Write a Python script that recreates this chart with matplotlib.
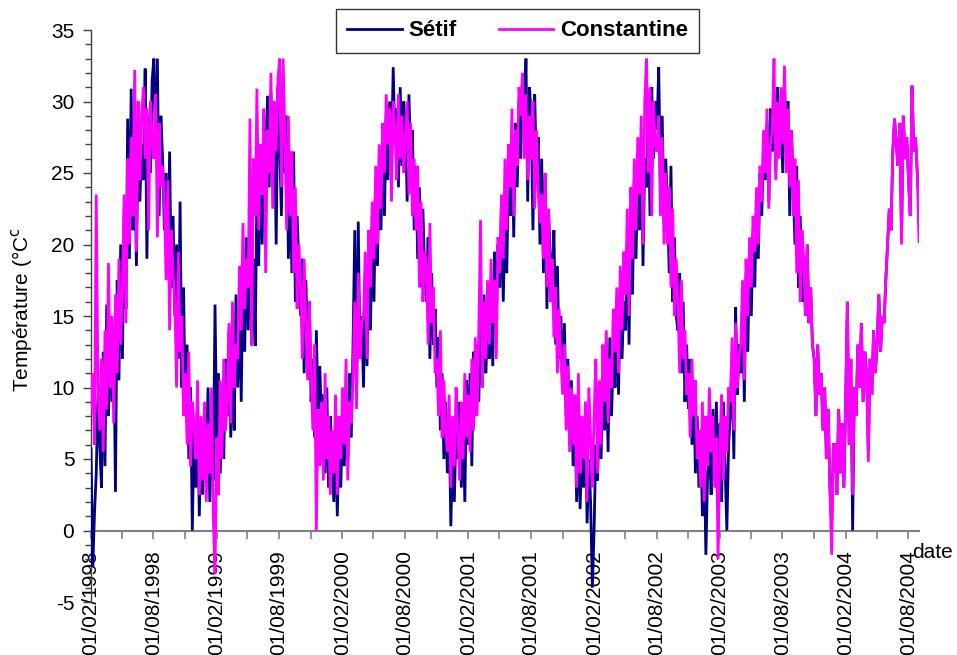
import numpy as np
import matplotlib
matplotlib.use("Agg")
import matplotlib.pyplot as plt
import matplotlib.dates as mdates
import datetime as dt

plt.rcParams['font.family'] = ['Liberation Sans', 'DejaVu Sans']
plt.rcParams['axes.unicode_minus'] = False

start_date = dt.date(1998, 2, 1)
end_date = dt.date(2004, 9, 1)

# Sétif daily temperatures (~5-day readings), Feb 1998 -> Sep 2004
setif_1998 = [5.7, -2.5, 1.2, 4.0, 9.5, 6.0,
              3.0, 12.5, 4.5, 15.8, 8.0, 13.5,
              9.0, 14.0, 2.7, 17.5, 10.5, 20.0,
              12.0, 22.5, 15.5, 28.8, 19.0, 30.9,
              21.0, 26.5, 18.5, 28.0, 23.0, 27.0,
              24.5, 32.3, 19.0, 29.0, 25.0, 31.5,
              33.0, 26.0, 33.0, 22.0, 29.0, 26.0,
              21.0, 25.0, 18.5, 26.5, 17.0, 22.0,
              15.0, 20.0, 12.0, 23.0, 10.0, 17.0,
              8.0, 13.0, 5.0, 10.0, 0.0, 7.0,
              3.0, 9.0, 1.0, 6.5, 2.5, 8.0]
setif_1999 = [4.5, 10.0, 2.0, 7.0, 3.5, 15.8,
              6.0, 11.0, 4.0, 9.5, 5.0, 12.0,
              8.0, 14.0, 6.5, 12.0, 7.0, 16.5,
              10.0, 15.5, 9.0, 18.0, 12.5, 20.5,
              14.0, 22.5, 13.0, 19.0, 12.9, 24.0,
              18.5, 26.0, 20.0, 29.0, 22.0, 30.4,
              24.0, 30.6, 26.0, 29.5, 20.0, 31.0,
              27.0, 22.0, 30.0, 25.0, 29.0, 19.0,
              25.0, 18.0, 26.5, 16.0, 22.0, 18.5,
              15.0, 19.0, 11.0, 17.5, 12.5, 16.0,
              9.0, 12.0, 6.5, 14.0, 8.0, 11.5,
              7.0, 9.5, 4.0, 10.0, 3.0, 8.0]
setif_2000 = [5.5, 2.0, 7.0, 1.0, 6.5, 3.0,
              8.0, 4.5, 9.5, 5.0, 11.0, 6.5,
              13.0, 21.0, 9.0, 21.6, 12.0, 15.0,
              10.0, 17.0, 11.5, 19.0, 14.0, 22.0,
              16.0, 24.5, 18.5, 26.0, 21.0, 27.5,
              22.0, 29.0, 24.5, 30.0, 26.0, 32.4,
              27.0, 29.5, 24.0, 31.0, 25.5, 30.0,
              28.5, 23.0, 30.5, 26.0, 28.0, 21.0,
              25.5, 19.0, 24.0, 17.0, 22.5, 18.0,
              16.0, 20.5, 12.0, 18.0, 13.0, 15.5,
              10.0, 13.5, 7.0, 11.0, 5.0, 9.0,
              4.0, 8.0, 0.3, 6.0, 2.0, 7.5]
setif_2001 = [5.0, 9.0, 3.0, 8.0, 2.0, 10.5,
              6.0, 11.0, 4.5, 12.5, 8.0, 13.0,
              9.0, 15.0, 10.0, 16.5, 11.0, 14.0,
              12.0, 17.0, 11.5, 19.5, 14.0, 20.0,
              17.0, 23.0, 16.0, 21.5, 18.0, 25.0,
              22.0, 27.5, 20.5, 28.5, 24.0, 30.0,
              26.0, 32.0, 28.0, 33.0, 23.0, 31.0,
              29.0, 21.0, 30.5, 25.0, 27.5, 20.0,
              26.0, 18.0, 25.0, 15.5, 22.0, 19.0,
              17.0, 21.0, 13.0, 18.5, 12.0, 15.0,
              10.0, 14.5, 8.0, 12.0, 6.0, 10.5,
              4.5, 9.0, 2.0, 7.0, 1.5, 6.0]
setif_2002 = [3.0, 8.0, 0.5, 5.0, 2.0, -4.0,
              0.0, 6.0, 3.5, 9.0, 5.0, 11.0,
              7.0, 12.0, 5.5, 13.5, 8.0, 12.5,
              10.0, 15.5, 9.5, 17.0, 12.0, 16.0,
              14.0, 20.0, 13.0, 22.0, 16.5, 24.5,
              19.0, 25.0, 21.0, 27.5, 18.5, 26.0,
              24.0, 29.5, 22.0, 31.0, 26.0, 30.0,
              28.0, 32.4, 24.0, 29.0, 21.5, 26.0,
              23.0, 18.0, 25.5, 16.0, 20.5, 15.0,
              14.0, 18.0, 11.0, 16.0, 9.0, 13.0,
              8.5, 12.0, 6.0, 10.5, 4.0, 8.0,
              3.0, 7.0, 1.0, 5.5, -1.7, 4.0]
setif_2003 = [6.0, 2.5, 8.5, 4.0, 9.0, 3.0,
              7.5, 2.0, 9.0, 4.5, 0.0, 6.0,
              8.0, 12.5, 5.0, 15.6, 9.5, 13.0,
              11.0, 16.0, 9.0, 18.0, 12.5, 19.5,
              15.0, 21.0, 17.0, 23.5, 19.0, 25.0,
              22.0, 27.0, 24.5, 28.5, 23.0, 29.5,
              26.5, 30.5, 25.0, 31.0, 27.5, 29.0,
              25.0, 31.2, 27.0, 30.0, 22.0, 28.0,
              24.0, 20.0, 25.5, 17.0, 22.0, 16.0,
              19.0, 15.0, 20.0, 14.5, 17.0, 13.0,
              12.0, 8.0, 13.0, 9.5, 11.0, 7.0,
              10.0, 5.0, 8.5, 3.0, 0.5, 6.0]
setif_2004 = [6.0, 2.5, 8.5, 4.0, 7.5, 3.0,
              9.0, 16.0, 6.0, 12.0, 0.0, 10.0,
              8.0, 13.0, 10.0, 14.5, 9.0, 12.5,
              11.0, 5.5, 12.0, 9.5, 14.0, 11.0,
              13.0, 16.5, 12.5, 15.0, 14.5, 17.5,
              20.0, 22.5, 21.0, 26.5, 28.8, 27.0,
              25.5, 28.5, 20.5, 29.0, 26.0, 27.5,
              24.5, 22.0, 31.1, 26.5, 27.5, 25.0,
              22.8]

# Constantine
constantine_1998 = [8.5, 11.0, 6.0, 23.5, 10.0, 7.0,
                    12.0, 5.5, 14.0, 8.5, 18.7, 10.0,
                    15.0, 7.5, 16.5, 11.0, 19.0, 13.0,
                    17.0, 23.5, 14.5, 26.0, 20.0, 27.5,
                    22.0, 32.2, 19.5, 30.0, 24.5, 29.0,
                    31.0, 26.0, 29.5, 21.0, 30.0, 27.0,
                    26.0, 30.5, 20.5, 28.5, 24.0, 25.5,
                    23.0, 17.5, 24.5, 14.0, 21.0, 18.0,
                    16.0, 10.0, 19.5, 12.5, 15.0, 8.0,
                    11.0, 6.0, 12.5, 4.5, 9.0, 7.5,
                    5.0, 10.5, 2.5, 8.0, 3.5, 9.0]
constantine_1999 = [2.0, 7.5, 4.0, 10.0, 1.0, -3.0,
                    6.5, 2.5, 10.5, 5.0, 12.0, 7.0,
                    9.0, 14.5, 7.5, 16.0, 10.0, 13.0,
                    12.0, 18.5, 14.0, 21.5, 15.5, 19.0,
                    17.0, 28.8, 12.9, 26.0, 22.0, 30.9,
                    21.0, 27.0, 23.5, 29.5, 18.0, 28.0,
                    25.0, 32.0, 22.5, 30.0, 26.5, 31.5,
                    33.0, 24.0, 33.0, 27.5, 21.0, 29.0,
                    22.0, 26.5, 18.0, 24.0, 15.5, 20.0,
                    17.0, 12.0, 19.0, 14.5, 10.5, 16.0,
                    11.0, 7.0, 13.0, 0.0, 8.5, 4.5,
                    9.0, 3.5, 11.0, 5.0, 8.0, 2.5]
constantine_2000 = [7.0, 4.0, 9.5, 2.5, 8.0, 5.0,
                    10.0, 6.0, 12.0, 3.5, 9.0, 7.5,
                    11.0, 16.0, 8.5, 18.0, 12.0, 14.5,
                    15.0, 19.5, 12.0, 21.0, 17.0, 23.0,
                    19.0, 25.5, 20.0, 27.0, 22.5, 28.5,
                    25.0, 30.5, 27.0, 29.5, 23.0, 30.0,
                    28.0, 24.5, 30.5, 26.0, 29.0, 25.0,
                    27.5, 30.0, 23.5, 28.5, 22.0, 26.0,
                    21.0, 25.5, 17.0, 23.0, 16.0, 19.5,
                    18.5, 13.0, 21.5, 14.5, 17.0, 11.0,
                    12.0, 8.0, 14.0, 6.5, 10.5, 7.0,
                    5.5, 9.5, 3.0, 8.0, 4.5, 10.0]
constantine_2001 = [7.0, 3.5, 9.0, 5.0, 11.0, 6.5,
                    9.5, 5.5, 12.0, 7.0, 13.5, 8.0,
                    14.0, 21.7, 10.0, 16.0, 12.0, 17.5,
                    13.0, 19.0, 14.5, 17.5, 12.0, 20.5,
                    18.0, 23.5, 19.0, 26.0, 21.0, 27.0,
                    24.0, 29.5, 22.0, 28.0, 25.5, 31.0,
                    29.0, 32.0, 26.0, 30.5, 24.5, 29.0,
                    26.0, 30.0, 22.5, 28.0, 24.0, 21.5,
                    23.5, 19.0, 25.0, 17.0, 22.5, 16.0,
                    19.0, 13.5, 17.0, 11.0, 15.5, 12.0,
                    9.5, 13.0, 7.0, 11.5, 5.5, 10.0,
                    6.0, 9.5, 3.0, 11.0, 4.0, 8.0]
constantine_2002 = [5.0, 9.0, 2.0, 10.0, 6.5, 3.0,
                    8.0, 12.0, 4.0, 10.5, 6.0, 13.0,
                    9.0, 14.0, 7.5, 12.0, 10.0, 15.5,
                    12.5, 17.0, 11.0, 18.5, 14.0, 19.5,
                    16.5, 22.5, 15.0, 24.0, 19.0, 26.0,
                    21.0, 27.5, 23.5, 29.0, 20.0, 30.0,
                    33.0, 25.0, 31.0, 22.0, 30.0, 27.0,
                    26.5, 29.0, 22.0, 27.5, 20.0, 25.0,
                    20.0, 24.0, 17.0, 22.5, 15.0, 19.0,
                    16.0, 11.0, 17.5, 12.0, 14.0, 9.5,
                    11.0, 6.5, 12.0, 8.0, 10.5, 5.0,
                    7.0, 3.0, 9.0, 2.0, 8.0, 4.5]
constantine_2003 = [10.0, 5.5, 8.0, 3.0, 6.5, -2.0,
                    6.0, 9.5, 3.5, 8.0, 5.5, 10.0,
                    9.0, 13.5, 7.0, 14.5, 10.0, 12.0,
                    13.0, 17.5, 10.5, 19.0, 15.0, 20.5,
                    17.0, 22.0, 19.5, 24.0, 20.0, 25.5,
                    23.0, 28.0, 25.0, 29.5, 22.5, 27.0,
                    28.0, 33.0, 24.5, 30.0, 26.0, 31.0,
                    27.0, 32.5, 25.0, 29.5, 24.0, 28.0,
                    22.0, 26.0, 18.0, 24.5, 16.0, 21.0,
                    19.0, 15.0, 20.0, 14.5, 17.0, 13.0,
                    12.0, 8.0, 13.0, 9.5, 11.0, 7.0,
                    10.0, 5.0, 8.5, 3.0, -1.7, 6.0]
constantine_2004 = [6.0, 2.5, 8.5, 4.0, 7.5, 3.0,
                    9.0, 16.0, 6.0, 12.0, 2.5, 10.0,
                    8.0, 13.0, 10.0, 14.5, 9.0, 12.5,
                    11.0, 4.8, 12.0, 9.5, 14.0, 11.0,
                    13.0, 16.5, 12.5, 15.0, 14.5, 17.5,
                    20.0, 22.5, 21.0, 26.5, 28.8, 27.0,
                    25.5, 28.5, 20.0, 29.0, 26.0, 27.5,
                    24.5, 22.0, 31.1, 26.5, 27.5, 25.0,
                    20.2]

series_names = ["Sétif", "Constantine"]
series_colors = ["#000080", "#FF00FF"]

setif = np.array(setif_1998 + setif_1999 + setif_2000 + setif_2001 +
                 setif_2002 + setif_2003 + setif_2004)
constantine = np.array(constantine_1998 + constantine_1999 + constantine_2000 +
                       constantine_2001 + constantine_2002 + constantine_2003 +
                       constantine_2004)

d0 = mdates.date2num(start_date)
d1 = mdates.date2num(end_date)


def dates_for(values):
    return np.linspace(d0, d1, len(values))


fig = plt.figure(figsize=(9.57, 6.55), dpi=100)
ax = fig.add_axes([91 / 957, 1 - 602 / 655, (919 - 91) / 957, (602 - 30) / 655])

for vals, name, col in zip([setif, constantine], series_names, series_colors):
    ax.plot(dates_for(vals), vals, color=col, lw=2.0, label=name, zorder=3,
            solid_joinstyle='miter')

ax.set_xlim(d0, d1)
ax.set_ylim(-5, 35)
ax.set_yticks(np.arange(-5, 36, 5))
ax.yaxis.set_minor_locator(matplotlib.ticker.MultipleLocator(1))

ax.xaxis.set_major_locator(mdates.MonthLocator(bymonth=[2, 8], bymonthday=1))
ax.xaxis.set_minor_locator(mdates.MonthLocator(bymonth=[5, 11], bymonthday=1))
ax.xaxis.set_major_formatter(mdates.DateFormatter('%d/%m/%Y'))

for s in ['top', 'right']:
    ax.spines[s].set_visible(False)
ax.spines['bottom'].set_position(('data', 0))
ax.spines['bottom'].set_color('#808080')
ax.spines['bottom'].set_linewidth(1.5)
ax.spines['left'].set_color('#404040')
ax.spines['left'].set_linewidth(1.0)
ax.spines['bottom'].set_zorder(2)

ax.tick_params(axis='y', which='major', length=6, width=1, color='#404040',
               labelsize=15, pad=6)
ax.tick_params(axis='y', which='minor', length=4, width=1, color='#404040')
ax.tick_params(axis='x', which='both', length=6, width=1.2, color='#808080',
               direction='out')
ax.tick_params(axis='x', which='major', labelsize=15, pad=8, labelrotation=90)

fig.text(22 / 957, 1 - 310 / 655, "Température (°C$^{\\mathrm{c}}$",
         rotation=90, ha='center', va='center', fontsize=15)
fig.text(912 / 957, 1 - 553 / 655, "date", ha='left', va='center', fontsize=15)

leg = ax.legend(loc='center', bbox_to_anchor=(517.5 / 957, 1 - 31 / 655),
                bbox_transform=fig.transFigure, ncol=2, frameon=True,
                fancybox=False, handlelength=2.45, handletextpad=0.3,
                columnspacing=1.9, borderpad=0.5,
                prop={'weight': 'bold', 'size': 16})
leg.get_frame().set_edgecolor('black')
leg.get_frame().set_linewidth(1.0)

fig.savefig("out.png", dpi=100)
